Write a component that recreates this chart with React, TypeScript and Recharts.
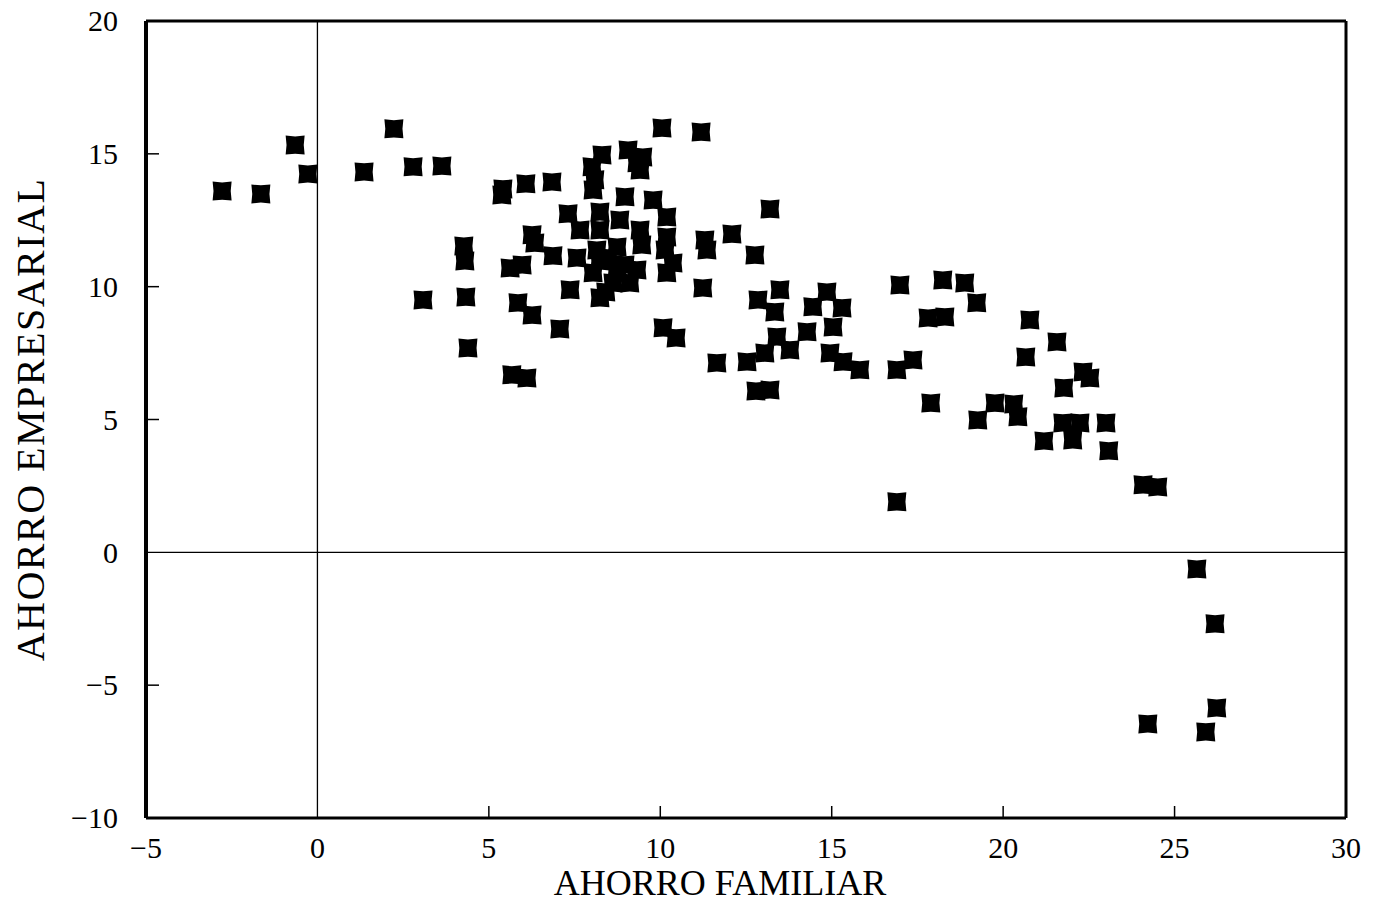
import { ScatterChart, Scatter, XAxis, YAxis, ReferenceLine } from 'recharts'

// Ahorro familiar (x) vs ahorro empresarial (y)
const ahorroFamiliar = [
  -2.78, -1.65, -0.65, -0.28, 1.36, 2.23, 2.79, 3.63, 3.08, 4.27, 4.3, 4.33, 4.39,
  5.41, 5.38, 6.08, 6.84, 5.62, 5.97, 5.85, 5.67, 6.11, 6.26, 6.26, 6.34, 6.87, 7.07,
  7.31, 7.37, 7.57, 7.66, 8.01, 8.04, 8.09, 8.3, 8.24, 8.24, 8.15, 8.04, 8.24, 8.62,
  8.74, 8.74, 8.82, 8.97, 9.06, 9.32, 9.49, 9.41, 9.11, 9.32, 9.46, 9.41, 9.79, 8.24,
  8.47, 8.97, 8.41,
  10.05, 10.19, 10.19, 10.14, 10.37, 10.19, 10.08, 10.46, 11.19, 11.3, 11.36, 11.24,
  11.65, 12.09, 12.53, 12.76, 12.79, 13.2, 12.85, 13.2, 13.34, 13.49, 13.4, 13.05,
  13.78, 14.28, 14.45, 14.86, 15.3, 15.04, 14.95, 15.33, 15.82, 16.9, 16.9, 16.99,
  17.37, 17.89, 17.81, 18.3, 18.24, 18.88, 19.23, 19.26, 19.76, 20.31, 20.43, 20.66,
  20.78, 21.19, 21.57, 21.77, 21.74, 22.24, 22.03, 22.33, 22.53, 23.0, 23.08, 24.08,
  24.51, 25.65, 26.18, 26.23, 24.22, 25.91,
]
const ahorroEmpresarial = [
  13.6, 13.49, 15.33, 14.24, 14.32, 15.94, 14.51, 14.54, 9.5, 11.53, 10.97, 9.61, 7.69,
  13.68, 13.45, 13.87, 13.94, 10.7, 10.82, 9.39, 6.68, 6.56, 8.93, 11.95, 11.64, 11.16, 8.41,
  12.74, 9.88, 11.08, 12.13, 14.51, 13.64, 14.02, 14.96, 12.81, 12.13, 11.38, 10.52, 9.58, 10.14,
  10.63, 11.49, 12.51, 13.38, 15.14, 14.66, 14.88, 14.39, 10.14, 10.63, 11.57, 12.13, 13.26, 10.97,
  11.08, 10.82, 9.8,
  15.97, 12.62, 11.87, 11.38, 10.89, 10.52, 8.45, 8.07, 15.82, 11.76, 11.38, 9.95,
  7.13, 11.98, 7.17, 11.19, 6.07, 6.11, 9.5, 12.92, 9.05, 9.88, 8.11, 7.5,
  7.62, 8.3, 9.24, 9.8, 9.2, 8.48, 7.5, 7.17, 6.87, 6.87, 1.9, 10.06,
  7.24, 5.62, 8.82, 8.86, 10.25, 10.14, 9.39, 4.98, 5.62, 5.58, 5.1, 7.35,
  8.75, 4.19, 7.92, 6.19, 4.87, 4.87, 4.23, 6.79, 6.56, 4.87, 3.82, 2.54,
  2.46, -0.63, -2.69, -5.86, -6.46, -6.76,
]

const xTicks = [-5, 0, 5, 10, 15, 20, 25, 30]
const yTicks = [-10, -5, 0, 5, 10, 15, 20]

const data = ahorroFamiliar.map((x, i) => ({ x, y: ahorroEmpresarial[i] }))

const FONT = '"Liberation Serif", "Times New Roman", serif'
const fmt = (v: number) => (v < 0 ? '\u2212' + Math.abs(v) : String(v))

const BottomTick = (props: any) => {
  const { x, y, payload } = props
  const v = payload.value
  const inner = v !== -5 && v !== 30 && v !== 0
  return (
    <g>
      {inner && <line x1={x} x2={x} y1={y} y2={y - 12} stroke="#000" strokeWidth={1.5} />}
      <text x={x} y={y + 40} textAnchor="middle" fontFamily={FONT} fontSize={30} fill="#000">
        {fmt(v)}
      </text>
    </g>
  )
}

const LeftTick = (props: any) => {
  const { x, y, payload } = props
  const v = payload.value
  const inner = v !== -10 && v !== 20 && v !== 0
  return (
    <g>
      {inner && <line x1={x + 28} x2={x + 41} y1={y} y2={y} stroke="#000" strokeWidth={1.5} />}
      <text x={x} y={y} dy="0.34em" textAnchor="end" fontFamily={FONT} fontSize={30} fill="#000">
        {fmt(v)}
      </text>
    </g>
  )
}

// nearly square marker with a slight pinch on each side, like the printed ones
const Marker = (props: any) => {
  const { cx, cy } = props
  const s = 9.5
  const n = 0.9
  const d = `M${cx - s},${cy - s} L${cx},${cy - s + n} L${cx + s},${cy - s} L${cx + s - n},${cy} L${cx + s},${cy + s} L${cx},${cy + s - n} L${cx - s},${cy + s} L${cx - s + n},${cy} Z`
  return <path d={d} fill="#000" />
}

export default function App() {
  return (
    <div style={{ position: 'absolute', left: 0, top: 0, background: '#fff' }}>
      <ScatterChart width={1382} height={909} margin={{ top: 19, right: 34, bottom: 0, left: 0 }}>
        <XAxis
          xAxisId="b"
          type="number"
          dataKey="x"
          domain={[-5, 30]}
          ticks={xTicks}
          interval={0}
          height={91}
          tickSize={0}
          tickMargin={0}
          tick={<BottomTick />}
          axisLine={{ stroke: '#000', strokeWidth: 3 }}
          label={{
            value: 'AHORRO FAMILIAR',
            position: 'insideBottom',
            offset: 14,
            dx: -26,
            fontFamily: FONT,
            fontSize: 36,
            fill: '#000',
          }}
        />
        <XAxis
          xAxisId="t"
          orientation="top"
          type="number"
          dataKey="x"
          domain={[-5, 30]}
          ticks={xTicks}
          height={2}
          tick={false}
          tickLine={false}
          axisLine={{ stroke: '#000', strokeWidth: 3 }}
        />
        <YAxis
          yAxisId="l"
          type="number"
          dataKey="y"
          domain={[-10, 20]}
          ticks={yTicks}
          interval={0}
          width={146}
          tickSize={0}
          tickMargin={28}
          tick={<LeftTick />}
          axisLine={{ stroke: '#000', strokeWidth: 4 }}
          label={{
            value: 'AHORRO EMPRESARIAL',
            angle: -90,
            position: 'insideLeft',
            offset: 30,
            fontFamily: FONT,
            fontSize: 40,
            letterSpacing: 1.5,
            fill: '#000',
            style: { textAnchor: 'middle' },
          }}
        />
        <YAxis
          yAxisId="r"
          orientation="right"
          type="number"
          dataKey="y"
          domain={[-10, 20]}
          ticks={yTicks}
          width={2}
          tick={false}
          tickLine={false}
          axisLine={{ stroke: '#000', strokeWidth: 3 }}
        />
        <ReferenceLine xAxisId="b" yAxisId="l" x={0} stroke="#000" strokeWidth={1.3} />
        <ReferenceLine xAxisId="b" yAxisId="l" y={0} stroke="#000" strokeWidth={1.3} />
        <Scatter
          xAxisId="b"
          yAxisId="l"
          data={data}
          shape={<Marker />}
          isAnimationActive={false}
        />
      </ScatterChart>
    </div>
  )
}
